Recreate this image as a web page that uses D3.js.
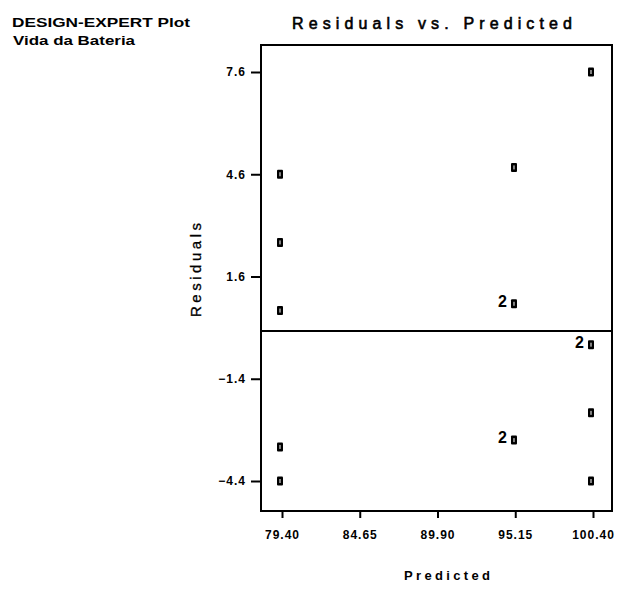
<!DOCTYPE html>
<html>
<head>
<meta charset="utf-8">
<script src="https://cdn.jsdelivr.net/npm/d3@7"></script>
<style>
    body { margin: 0; background: #fff; }
    svg text { font-family: "Liberation Sans", Arial, sans-serif; font-weight: bold; fill: #000; }
    .tick-label { font-size: 12px; letter-spacing: 1px; }
</style>
</head>
<body>
<svg id="chart" width="622" height="604"></svg>
<script>
// data
const predictedValues = [79.4, 79.4, 79.4, 79.4, 79.4, 95.2, 95.2, 95.2, 100.4, 100.4, 100.4, 100.4];
const residualValues = [4.6, 2.6, 0.6, -3.4, -4.4, 4.8, 0.8, -3.2, 7.6, -0.4, -2.4, -4.4];
const pointCounts = [1, 1, 1, 1, 1, 1, 2, 2, 1, 2, 1, 1];
const xTickValues = [79.40, 84.65, 89.90, 95.15, 100.40];
const yTickValues = [-4.4, -1.4, 1.6, 4.6, 7.6];

const plotLeft = 261, plotRight = 612, plotTop = 45, plotBottom = 511;

const svg = d3.select("#chart");

// scales
const xScale = d3.scaleLinear()
    .domain([79.4, 100.4])
    .range([282, 593]);
const yScale = d3.scaleLinear()
    .domain([-4.4, 7.6])
    .range([481, 72]);

// header text
svg.append("text")
    .attr("x", 12).attr("y", 27)
    .attr("textLength", 178)
    .attr("lengthAdjust", "spacingAndGlyphs")
    .style("font-size", "12px")
    .text("DESIGN-EXPERT Plot");
svg.append("text")
    .attr("x", 13).attr("y", 45)
    .attr("textLength", 122)
    .attr("lengthAdjust", "spacingAndGlyphs")
    .style("font-size", "12px")
    .text("Vida da Bateria");

// title
svg.append("text")
    .attr("x", 292).attr("y", 29)
    .attr("textLength", 280)
    .attr("lengthAdjust", "spacing")
    .style("font-size", "16px")
    .style("font-weight", "normal")
    .style("stroke", "#000").style("stroke-width", 0.6)
    .text("Residuals vs. Predicted");

// axes
const xAxis = d3.axisBottom(xScale)
    .tickValues(xTickValues)
    .tickSize(7)
    .tickPadding(12)
    .tickFormat(d3.format(".2f"));
const gx = svg.append("g")
    .attr("transform", `translate(0,${plotBottom})`)
    .call(xAxis);

const yAxis = d3.axisLeft(yScale)
    .tickValues(yTickValues)
    .tickSize(10)
    .tickPadding(5)
    .tickFormat(d3.format(".1f"));
const gy = svg.append("g")
    .attr("transform", `translate(${plotLeft},0)`)
    .call(yAxis);

[gx, gy].forEach(g => {
    g.select(".domain").remove();
    g.selectAll(".tick line").attr("stroke", "#000").attr("stroke-width", 2);
    g.selectAll(".tick text")
        .attr("class", "tick-label")
        .attr("font-family", null)
        .attr("font-size", null);
});

// frame
svg.append("rect")
    .attr("x", plotLeft).attr("y", plotTop)
    .attr("width", plotRight - plotLeft)
    .attr("height", plotBottom - plotTop)
    .attr("fill", "none")
    .attr("stroke", "#000")
    .attr("stroke-width", 2);

// zero line
svg.append("line")
    .attr("x1", plotLeft).attr("x2", plotRight)
    .attr("y1", yScale(0)).attr("y2", yScale(0))
    .attr("stroke", "#000")
    .attr("stroke-width", 2);

// axis labels
svg.append("text")
    .attr("transform", `translate(201,270) rotate(-90)`)
    .attr("text-anchor", "middle")
    .style("font-size", "15px")
    .style("font-weight", "normal")
    .style("stroke", "#000").style("stroke-width", 0.3)
    .attr("textLength", 94)
    .text("Residuals");

svg.append("text")
    .attr("x", 447).attr("y", 580)
    .attr("text-anchor", "middle")
    .style("font-size", "13px")
    .attr("textLength", 86)
    .attr("lengthAdjust", "spacing")
    .text("Predicted");

// points
const points = predictedValues.map((p, i) => ({ p: p, r: residualValues[i], n: pointCounts[i] }));

const pts = svg.selectAll(".pt").data(points)
    .join("g")
    .attr("class", "pt")
    .attr("transform", d => `translate(${xScale(d.p) - 2},${yScale(d.r)})`);

pts.append("rect")
    .attr("x", -3).attr("y", -4.5)
    .attr("width", 6).attr("height", 9)
    .attr("rx", 1)
    .attr("fill", "#000");
pts.append("rect")
    .attr("x", -0.5).attr("y", -2)
    .attr("width", 1).attr("height", 4)
    .attr("fill", "#fff");

pts.filter(d => d.n > 1)
    .append("text")
    .attr("x", -7).attr("y", 3)
    .attr("text-anchor", "end")
    .style("font-size", "16px")
    .text(d => d.n);
</script>
</body>
</html>
